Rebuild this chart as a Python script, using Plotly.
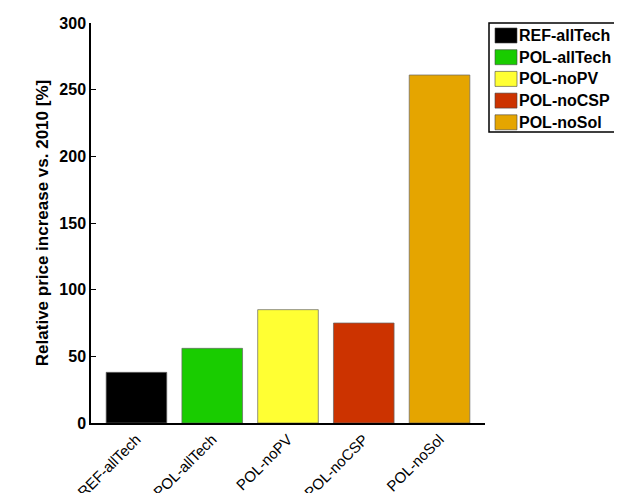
import plotly.graph_objects as go

categories = ["REF-allTech", "POL-allTech", "POL-noPV", "POL-noCSP", "POL-noSol"]
values = [38, 56, 85, 75, 261]
colors = ["#000000", "#19cc00", "#ffff33", "#cc3300", "#e5a500"]
yticks = [0, 50, 100, 150, 200, 250, 300]

OFF = 8  # page body margin
W, H = 622 - OFF, 493 - OFF
ML, MR, MT, MB = 91 - OFF, 137, 23 - OFF, 70
PW, PH = W - ML - MR, H - MT - MB

def px(x):
    return (x - OFF - ML) / PW

def py(y):
    return (H - MB - (y - OFF)) / PH

font = "Liberation Sans, Arial, sans-serif"

fig = go.Figure()
for c, v, col in zip(categories, values, colors):
    fig.add_trace(go.Bar(x=[c], y=[v], name=c, width=0.8, showlegend=False,
                         marker=dict(color=col, line=dict(color="#666666", width=0.7))))

# manual legend (MATLAB-style, large swatches)
shapes = [dict(type="rect", xref="paper", yref="paper",
               x0=px(489), x1=px(660), y0=py(132), y1=py(23),
               line=dict(color="#000000", width=1.5), fillcolor="white", layer="above")]
annotations = []
for i, (c, col) in enumerate(zip(categories, colors)):
    top = 28 + i * 21.7
    shapes.append(dict(type="rect", xref="paper", yref="paper",
                       x0=px(495), x1=px(517), y0=py(top + 15), y1=py(top),
                       line=dict(color="#444444", width=0.6), fillcolor=col, layer="above"))
    annotations.append(dict(xref="paper", yref="paper", x=px(517), y=py(top + 7.5),
                            xanchor="left", yanchor="middle", showarrow=False,
                            text="<b>" + c + "</b>",
                            font=dict(family=font, size=16, color="#000000")))

fig.update_layout(
    width=W, height=H,
    margin=dict(l=ML, r=MR, t=MT, b=MB, autoexpand=False),
    plot_bgcolor="white", paper_bgcolor="white",
    barmode="overlay",
    showlegend=False,
    shapes=shapes,
    annotations=annotations,
    xaxis=dict(type="category", categoryorder="array", categoryarray=categories,
               range=[-0.6, 4.6], showline=True, linecolor="#000000", linewidth=1.5,
               ticks="", tickangle=-45, automargin=False,
               tickfont=dict(family=font, size=15, color="#000000"),
               showgrid=False),
    yaxis=dict(range=[0, 300], tickvals=yticks, ticktext=["<b>%d</b>" % t for t in yticks],
               showline=True, linecolor="#000000", linewidth=1.5, automargin=False,
               ticks="inside", ticklen=5, tickcolor="#000000", tickwidth=1.2,
               tickfont=dict(family=font, size=16, color="#000000"),
               showgrid=False, zeroline=False,
               title=dict(text="<b>Relative price increase vs. 2010 [%]</b>",
                          font=dict(family=font, size=17, color="#000000"), standoff=6)),
)
fig.write_html("out.html")
